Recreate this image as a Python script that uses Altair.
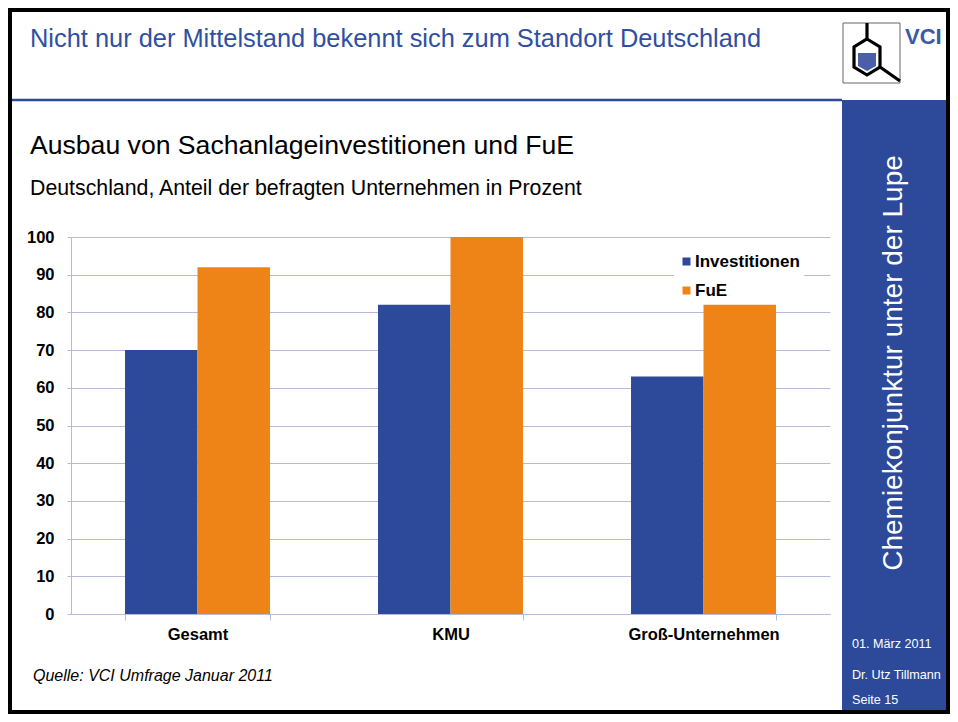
import altair as alt
import pandas as pd

# ---- data ----
categories = ["Gesamt", "KMU", "Groß-Unternehmen"]
series = ["Investitionen", "FuE"]
investitionen = [70, 82, 63]
fue = [92, 100, 82]
y_ticks = [0, 10, 20, 30, 40, 50, 60, 70, 80, 90, 100]

header_title = "Nicht nur der Mittelstand bekennt sich zum Standort Deutschland"
chart_title = "Ausbau von Sachanlageinvestitionen und FuE"
chart_subtitle = "Deutschland, Anteil der befragten Unternehmen in Prozent"
source_note = "Quelle: VCI Umfrage Januar 2011"
side_title = "Chemiekonjunktur unter der Lupe"
side_notes = ["01. März 2011", "Dr. Utz Tillmann", "Seite 15"]

rows = []
for c, a, b in zip(categories, investitionen, fue):
    rows.append({"cat": c, "series": series[0], "value": a})
    rows.append({"cat": c, "series": series[1], "value": b})
df = pd.DataFrame(rows)

FONT = "Liberation Sans"
BLUE = "#2D4A9A"
ORANGE = "#EE8418"
GRID = "#B6BAD8"
HEAD_BLUE = "#2F4FA2"

one = pd.DataFrame({"k": [0]})

bars = alt.Chart(df).mark_bar(opacity=1).encode(
    x=alt.X("cat:N", sort=categories,
            scale=alt.Scale(paddingInner=0.427, paddingOuter=0.2135),
            axis=alt.Axis(title=None, labelAngle=0, labelFont=FONT, labelFontWeight="bold",
                          labelFontSize=16.5, labelColor="black", domainColor=GRID,
                          tickColor=GRID, tickSize=6, tickBand="extent", labelPadding=6,
                          grid=False)),
    xOffset=alt.XOffset("series:N", sort=series,
                        scale=alt.Scale(paddingInner=0, paddingOuter=0)),
    y=alt.Y("value:Q", scale=alt.Scale(domain=[0, 100], nice=False),
            axis=alt.Axis(title=None, values=y_ticks, labelFont=FONT, labelFontWeight="bold",
                          labelFontSize=16.5, labelColor="black", domainColor=GRID,
                          tickColor=GRID, tickSize=4, labelPadding=13, gridColor=GRID,
                          gridWidth=1)),
    color=alt.Color("series:N", sort=series,
                    scale=alt.Scale(domain=series, range=[BLUE, ORANGE]),
                    legend=alt.Legend(title=None, orient="none", legendX=603, legendY=12,
                                      symbolType="square", symbolSize=64, symbolStrokeWidth=0,
                                      symbolOpacity=1, labelFont=FONT, labelFontWeight="bold",
                                      labelFontSize=17, labelColor="black", labelOffset=0,
                                      fillColor="white", padding=4, rowPadding=11)),
)

# ---- slide decorations (pixel positions relative to plot origin) ----
sidebar = alt.Chart(one).mark_rect(fill=BLUE).encode(
    x=alt.value(771), x2=alt.value(879), y=alt.value(-137), y2=alt.value(477))

header_line = alt.Chart(one).mark_rule(color=BLUE, strokeWidth=2.5).encode(
    x=alt.value(-61), x2=alt.value(771), y=alt.value(-137))

header_text = alt.Chart(one).mark_text(
    text=header_title, font=FONT, fontSize=25.4, color=HEAD_BLUE, align="left",
    baseline="alphabetic").encode(x=alt.value(-41), y=alt.value(-190))

vci_text = alt.Chart(one).mark_text(
    text="VCI", font="Liberation Sans Narrow, Arial Narrow, Liberation Sans", fontSize=22,
    fontWeight="bold", color="#3A5AA8", align="left", baseline="alphabetic").encode(
    x=alt.value(834), y=alt.value(-193))

logo_box = alt.Chart(one).mark_rect(fill="white", stroke="#666666", strokeWidth=1).encode(
    x=alt.value(772), x2=alt.value(829), y=alt.value(-214), y2=alt.value(-154))

logo_fill = alt.Chart(one).mark_point(
    shape="M -0.45 0 L 0.15 0 L 0.15 0.433 L -0.15 0.6 L -0.45 0.433 Z",
    filled=True, fill="#4A5FA8", strokeWidth=0, opacity=1, size=3600).encode(
    x=alt.value(800.5), y=alt.value(-184))

logo_lines = alt.Chart(one).mark_point(
    shape=("M -0.15 -1 L -0.15 -0.467 "
           "M -0.15 -0.467 L 0.283 -0.2 L 0.283 0.467 L -0.15 0.733 L -0.583 0.467 L -0.583 -0.2 Z "
           "M 0.283 0.467 L 0.95 0.933"),
    filled=False, stroke="black", strokeWidth=3.2, opacity=1, size=3600).encode(
    x=alt.value(800.5), y=alt.value(-184))

title_text = alt.Chart(one).mark_text(
    text=chart_title, font=FONT, fontSize=26.6, color="black", align="left",
    baseline="alphabetic").encode(x=alt.value(-41), y=alt.value(-83))

subtitle_text = alt.Chart(one).mark_text(
    text=chart_subtitle, font=FONT, fontSize=21.3, color="black", align="left",
    baseline="alphabetic").encode(x=alt.value(-41), y=alt.value(-42))

source_text = alt.Chart(one).mark_text(
    text=source_note, font=FONT, fontSize=16, fontStyle="italic", color="black",
    align="left", baseline="alphabetic").encode(x=alt.value(-38), y=alt.value(443.5))

side_text = alt.Chart(one).mark_text(
    text=side_title, font=FONT, fontSize=28, color="white", angle=270, align="center",
    baseline="alphabetic").encode(x=alt.value(831), y=alt.value(126))

notes_df = pd.DataFrame({"t": side_notes, "py": [407, 438, 463]})
notes = alt.Chart(notes_df).mark_text(
    font=FONT, fontSize=12.6, color="white", align="left", baseline="middle").encode(
    x=alt.value(781), y=alt.Y("py:Q", scale=None), text="t:N")

border = alt.Chart(one).mark_rect(fill=None, stroke="black", strokeWidth=4).encode(
    x=alt.value(-61), x2=alt.value(877), y=alt.value(-227), y2=alt.value(475))

chart = alt.layer(
    sidebar, header_line, header_text, vci_text, logo_box, logo_fill, logo_lines,
    title_text, subtitle_text, source_text, side_text, notes, bars, border
).resolve_scale(y="independent").properties(
    width=759, height=377,
    autosize=alt.AutoSizeParams(type="none"),
    padding={"left": 63, "top": 229, "right": 120, "bottom": 100},
    background="white",
).configure_view(strokeWidth=0)

chart.save("out.html", embed_options={"renderer": "svg", "actions": False})
